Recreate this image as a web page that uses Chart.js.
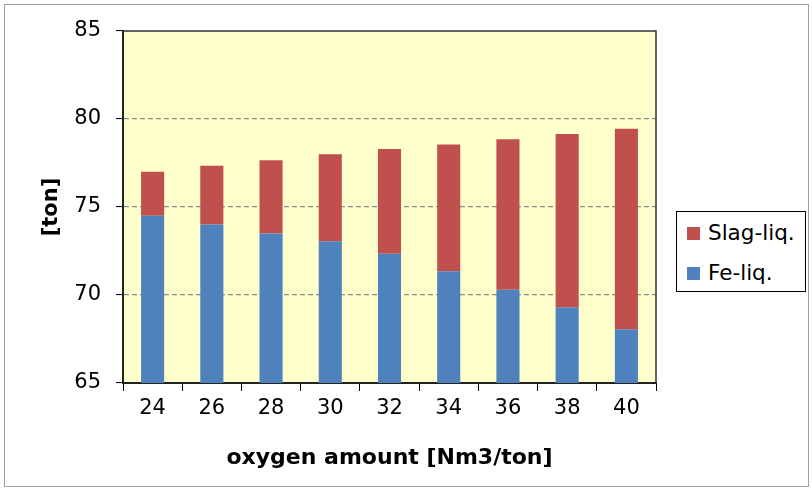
<!DOCTYPE html>
<html>
<head>
<meta charset="utf-8">
<script src="https://cdn.jsdelivr.net/npm/chart.js@4/dist/chart.umd.min.js"></script>
<style>
    body { margin: 0; background: #fff; }
    .moldura {
        position: absolute; left: 4px; top: 4px;
        width: 803px; height: 481px;
        border: 1px solid #a0a0a0;
    }
    .grafico { position: absolute; left: 0; top: 0; width: 812px; height: 491px; }
    .legenda {
        position: absolute; left: 676px; top: 211px;
        width: 128px; height: 79px;
        border: 1px solid #000; background: #fff;
        font-family: "DejaVu Sans", Verdana, sans-serif; font-size: 21.5px; color: #000;
    }
    .legenda .item { position: absolute; left: 10px; height: 24px; line-height: 24px; white-space: nowrap; }
    .legenda .cor { display: inline-block; width: 13px; height: 13px; margin-right: 8px; vertical-align: 0px; }
</style>
</head>
<body>
<div class="moldura"></div>
<div class="grafico"><canvas id="graficoOxigenio" width="812" height="491"></canvas></div>
<div class="legenda" id="legenda"></div>
<script>
// dados
const categorias = ['24', '26', '28', '30', '32', '34', '36', '38', '40'];
const feLiq = [74.5, 74.0, 73.5, 73.05, 72.35, 71.35, 70.3, 69.3, 68.05];
const slagLiq = [2.5, 3.35, 4.15, 4.95, 5.95, 7.2, 8.55, 9.85, 11.4];
const ticksY = [65, 70, 75, 80, 85];

const fonte = '"DejaVu Sans", Verdana, sans-serif';

// fundo amarelo e moldura da area do grafico
const fundoPlot = {
    id: 'fundoPlot',
    beforeDraw(chart) {
        const { ctx, chartArea: a } = chart;
        ctx.save();
        ctx.fillStyle = '#FFFFCC';
        ctx.fillRect(a.left, a.top, a.right - a.left, a.bottom - a.top);
        ctx.restore();
    },
    afterDatasetsDraw(chart) {
        const { ctx, chartArea: a } = chart;
        ctx.save();
        ctx.strokeStyle = '#333';
        ctx.lineWidth = 1.5;
        ctx.beginPath();
        ctx.moveTo(a.left, a.top);
        ctx.lineTo(a.right, a.top);
        ctx.lineTo(a.right, a.bottom);
        ctx.stroke();
        ctx.restore();
    }
};

const grafico = new Chart(document.getElementById('graficoOxigenio'), {
    type: 'bar',
    data: {
        labels: categorias,
        datasets: [
            { label: 'Fe-liq.', data: feLiq, backgroundColor: '#4F81BD' },
            { label: 'Slag-liq.', data: slagLiq, backgroundColor: '#C0504D' }
        ]
    },
    options: {
        responsive: false,
        animation: false,
        layout: { padding: { left: 0, right: 156, top: 31, bottom: 0 } },
        datasets: { bar: { categoryPercentage: 1, barPercentage: 0.39 } },
        plugins: {
            legend: { display: false },
            tooltip: { enabled: false }
        },
        scales: {
            x: {
                stacked: true,
                afterFit: (s) => { s.height = 108; },
                grid: { drawOnChartArea: false, tickLength: 8, tickColor: '#000', offset: true },
                border: { color: '#222', width: 2 },
                ticks: { color: '#000', font: { family: fonte, size: 21 }, padding: 5 },
                title: {
                    display: true, text: 'oxygen amount [Nm3/ton]', color: '#000',
                    font: { family: fonte, size: 22, weight: 'bold' }, padding: { top: 0, bottom: 20 }
                }
            },
            y: {
                stacked: true,
                min: 65, max: 85,
                afterFit: (s) => { s.width = 123; },
                afterBuildTicks: (s) => { s.ticks = ticksY.map(v => ({ value: v })); },
                grid: {
                    color: (c) => (c.tick && (c.tick.value === 65 || c.tick.value === 85)) ? 'rgba(0,0,0,0)' : '#8c8c8c',
                    lineWidth: 1.2,
                    tickLength: 7, tickColor: '#000', tickWidth: 1
                },
                border: { color: '#222', width: 2, dash: [5, 3] },
                ticks: { color: '#000', font: { family: fonte, size: 21 }, padding: 15 },
                title: {
                    display: true, text: '[ton]', color: '#000',
                    font: { family: fonte, size: 21, weight: 'bold' }, padding: { top: 39, bottom: 0 }
                }
            }
        }
    },
    plugins: [fundoPlot]
});

// legenda em HTML (ordem invertida como no original)
const legenda = document.getElementById('legenda');
legenda.innerHTML = grafico.data.datasets.slice().reverse().map((ds, i) => `
    <div class="item" style="top:${9 + i * 40}px">
        <span class="cor" style="background:${ds.backgroundColor}"></span>${ds.label}
    </div>
`).join('');
</script>
</body>
</html>
